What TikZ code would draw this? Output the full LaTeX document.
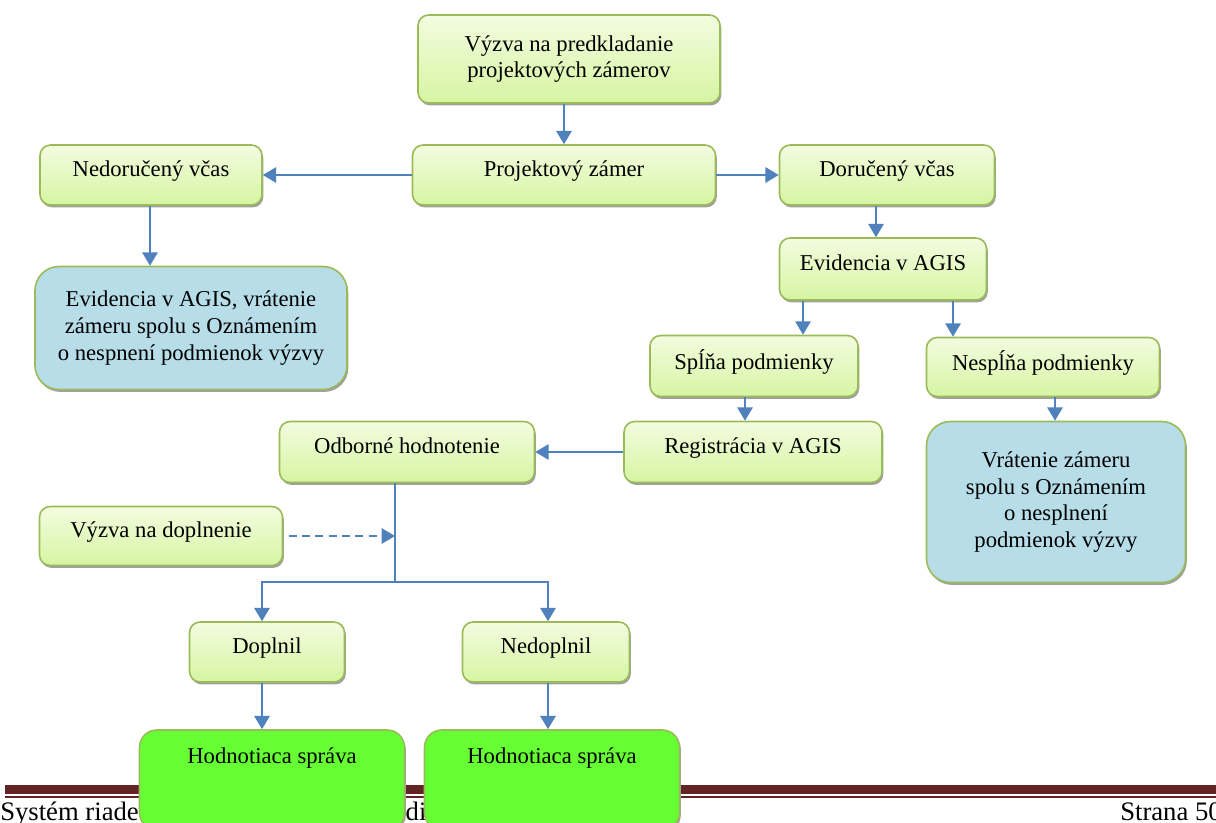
\documentclass[tikz,border=0pt]{standalone}
\usepackage{fontspec}
\setmainfont{Liberation Serif}
\usetikzlibrary{arrows.meta,shadows}
\definecolor{boxline}{HTML}{9BBB59}
\definecolor{boxtop}{HTML}{F3FCE0}
\definecolor{boxbot}{HTML}{D6F5A2}
\definecolor{bluefill}{HTML}{B7DDE8}
\definecolor{hodfill}{HTML}{66FF33}
\definecolor{arrblue}{HTML}{4F81BD}
\definecolor{footred}{HTML}{632523}
\tikzset{
  basebox/.style 2 args={draw=boxline, line width=1.2pt, rounded corners=8pt,
    minimum width=#1*0.75pt, minimum height=#2*0.75pt, inner sep=0pt, align=center,
    font=\fontsize{17}{20}\selectfont,
    drop shadow={shadow xshift=1pt, shadow yshift=-1.8pt, fill=gray!75, opacity=1}},
  stepbox/.style 2 args={basebox={#1}{#2}, top color=boxtop, bottom color=boxbot},
  endbox/.style 2 args={basebox={#1}{#2}, fill=bluefill, rounded corners=18pt},
  hodbox/.style 2 args={basebox={#1}{#2}, fill=hodfill, rounded corners=13pt, text depth=37pt},
  short/.style={text depth=10pt},
  arr/.style={draw=arrblue, line width=1.5pt, -{Triangle[length=10pt,width=11.5pt]}},
  foot/.style={inner sep=0pt, font=\fontsize{20}{23}\selectfont}
}
\begin{document}
\begin{tikzpicture}[x=0.75pt,y=-0.75pt]
\useasboundingbox (0,0) rectangle (1216,823);
% footer of the page
\fill[footred] (5,785) rectangle (1216,794); \fill[footred] (5,796) rectangle (1216,798);
\node[foot,anchor=base west] (sys) at (0,820) {Systém riade};
\node[foot,anchor=base west] (idi) at (398,820) {idi};
\node[foot,anchor=base west] (strana) at (1120,820) {Strana 50};
% boxes
\node[stepbox={302}{88}] (vyzva) at (569,59) {Výzva na predkladanie\\projektových zámerov};
\node[stepbox={303}{60},short] (zamer) at (564,175) {Projektový zámer};
\node[stepbox={222}{60},short] (nedor) at (151,175) {Nedoručený včas};
\node[stepbox={215}{60},short] (dorucil) at (887,175) {Doručený včas};
\node[endbox={312}{123}] (evidne) at (191,328) {Evidencia v AGIS, vrátenie\\zámeru spolu s Oznámením\\o nespnení podmienok výzvy};
\node[stepbox={207}{62},short] (evid) at (883,269) {Evidencia v AGIS};
\node[stepbox={208}{61},short] (splna) at (754,366) {Spĺňa podmienky};
\node[stepbox={233}{59},short] (nesplna) at (1043,367) {Nespĺňa podmienky};
\node[stepbox={258}{61},short] (regis) at (753,452) {Registrácia v AGIS};
\node[stepbox={255}{61},short] (odbor) at (407,452) {Odborné hodnotenie};
\node[endbox={259}{161}] (vrat) at (1056,502) {Vrátenie zámeru\\spolu s Oznámením\\o nesplnení\\podmienok výzvy};
\node[stepbox={243}{59},short] (doplnenie) at (161,536) {Výzva na doplnenie};
\node[stepbox={155}{60},short] (doplnil) at (267,652) {Doplnil};
\node[stepbox={167}{60},short] (nedoplnil) at (546,652) {Nedoplnil};
\node[hodbox={265}{100}] (hodn1) at (272,780) {Hodnotiaca správa};
\node[hodbox={255}{100}] (hodn2) at (552,780) {Hodnotiaca správa};
% connectors
\coordinate (split) at (395,582);
\draw[arr] (vyzva.south -| zamer.north) -- (zamer.north);
\draw[arr] (zamer.west) -- (nedor.east);
\draw[arr] (zamer.east) -- (dorucil.west);
\draw[arr] (nedor.south -| 150,0) -- (evidne.north -| 150,0);
\draw[arr] (dorucil.south -| 876,0) -- (evid.north -| 876,0);
\draw[arr] (evid.south -| 803,0) -- (splna.north -| 803,0);
\draw[arr] (evid.south -| 953,0) -- (nesplna.north -| 953,0);
\draw[arr] (splna.south -| 745,0) -- (regis.north -| 745,0);
\draw[arr] (nesplna.south -| 1055,0) -- (vrat.north -| 1055,0);
\draw[arr] (regis.west) -- (odbor.east);
\draw[draw=arrblue, line width=1.5pt] (odbor.south -| split) -- (split);
\draw[arr] (split) -| (doplnil.north -| 262,0);
\draw[arr] (split) -| (nedoplnil.north -| 548,0);
\draw[arr, dash pattern=on 6pt off 4pt, shorten <=4pt] (doplnenie.east) -- (split |- doplnenie.east);
\draw[arr] (doplnil.south -| 262,0) -- (hodn1.north -| 262,0);
\draw[arr] (nedoplnil.south -| 548,0) -- (hodn2.north -| 548,0);
\end{tikzpicture}
\end{document}
